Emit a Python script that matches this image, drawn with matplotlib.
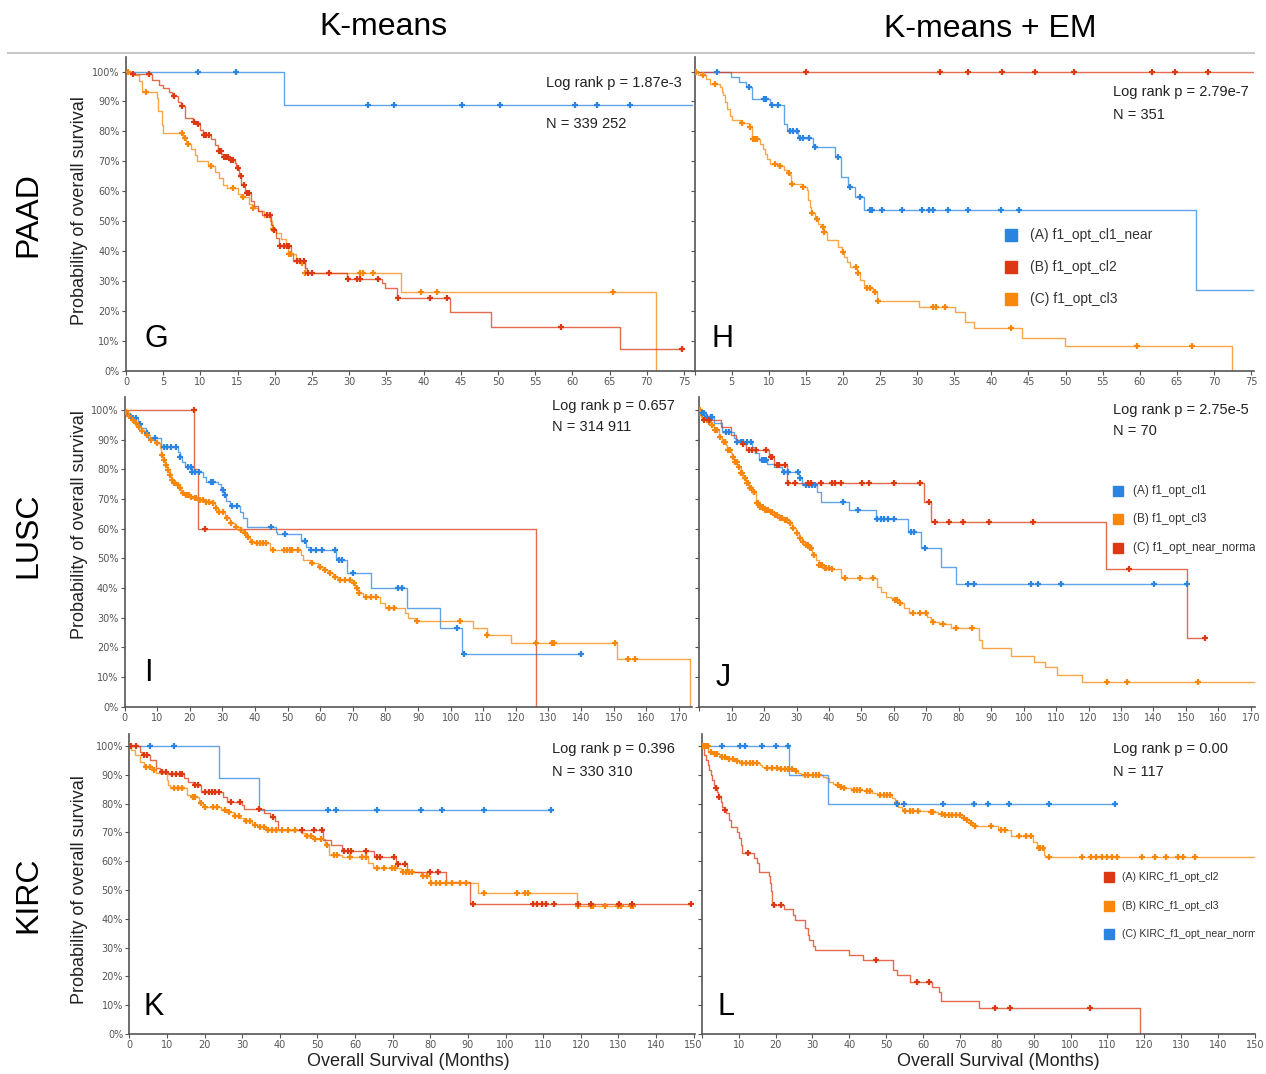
import numpy as np
import matplotlib
matplotlib.use("Agg")
import matplotlib.pyplot as plt
from matplotlib.lines import Line2D

# ---------------- survival data (months, % surviving) ----------------
# PAAD, K-means
G_blue_t = [21.2]
G_blue_s = [88.9]
G_blue_c = [9.7, 14.8, 32.5, 36.0, 45.1, 50.2, 60.4, 63.3, 67.8]
G_blue_end = 80

G_red_t = [0.6, 3.5, 4.5, 5.0, 5.8, 6.2, 7.0, 7.4, 7.9, 9.0, 9.6, 10.0, 10.3, 11.4, 12.0, 12.4,
           12.8, 13.0, 13.9, 14.6, 14.8, 15.2, 15.5, 16.0, 16.8, 17.2, 17.7, 18.3, 19.5, 19.8,
           20.2, 20.6, 22.2, 22.5, 24.0, 24.3, 29.7, 34.4, 34.8, 36.4, 43.6, 49.1, 66.4]
G_red_s = [99.3, 97.3, 95.6, 94.6, 93.0, 91.7, 89.9, 88.6, 84.6, 83.0, 82.4, 80.5, 78.8, 77.5,
           75.5, 73.6, 72.3, 71.3, 70.4, 69.3, 67.7, 65.2, 62.0, 59.5, 56.6, 55.1, 53.4, 52.0,
           48.6, 47.0, 44.5, 41.6, 39.2, 36.8, 34.5, 32.8, 30.7, 29.3, 27.6, 24.5, 19.6, 14.6, 7.2]
G_red_c = [1.0, 3.1, 6.4, 7.5, 9.2, 9.7, 10.5, 10.8, 11.1, 12.5, 12.7, 13.2, 13.5, 13.7, 14.1,
           14.4, 15.1, 15.4, 15.9, 16.2, 16.5, 19.0, 19.3, 19.9, 20.7, 21.2, 21.6, 21.9, 23.0,
           23.4, 23.9, 24.4, 25.0, 27.3, 29.9, 31.0, 31.5, 33.8, 36.6, 40.9, 43.2, 58.4, 74.7]
G_red_end = 74.7

G_orange_t = [0.8, 1.8, 2.2, 4.1, 4.3, 4.8, 5.0, 7.7, 8.1, 8.8, 9.3, 9.5, 11.0, 12.0, 12.5, 13.0,
              13.6, 15.0, 15.5, 16.5, 17.0, 17.8, 18.5, 19.3, 19.6, 20.2, 20.8, 21.5, 21.8, 22.8,
              23.3, 24.0, 36.9, 71.2]
G_orange_s = [98.9, 96.7, 93.3, 91.0, 86.7, 82.0, 79.4, 77.7, 75.7, 74.2, 72.0, 70.2, 68.5, 66.6,
              64.4, 62.2, 61.0, 59.0, 58.0, 55.8, 54.3, 53.3, 51.5, 50.0, 47.5, 46.0, 44.0, 41.5,
              39.1, 37.6, 36.2, 32.8, 26.3, 0.0]
G_orange_c = [0.3, 2.7, 7.5, 7.9, 8.3, 11.4, 14.4, 15.7, 17.1, 19.8, 21.9, 22.2, 23.7, 24.1,
              31.5, 31.8, 33.2, 39.6, 41.8, 65.5]
G_orange_end = 71.2

# PAAD, K-means + EM
H_blue_t = [4.9, 6.0, 7.0, 7.7, 10.2, 12.0, 12.5, 14.0, 16.0, 19.0, 19.8, 20.7, 21.6, 22.8, 67.6]
H_blue_s = [98.3, 96.4, 94.8, 90.9, 88.9, 82.6, 80.3, 77.8, 74.8, 71.4, 64.8, 61.4, 58.1, 53.7, 26.9]
H_blue_c = [3.0, 7.4, 9.4, 9.7, 10.4, 11.2, 12.9, 13.3, 13.8, 14.2, 14.6, 15.4, 16.3, 19.4, 21.0,
            22.3, 23.6, 23.9, 25.3, 27.9, 30.6, 31.6, 32.2, 34.2, 36.8, 41.3, 43.7]
H_blue_end = 80

H_red_t = []
H_red_s = []
H_red_c = [15.0, 33.1, 36.8, 41.4, 45.9, 51.2, 61.7, 64.7, 69.2]
H_red_end = 80

H_orange_t = [0.5, 1.6, 2.1, 3.4, 3.7, 3.9, 4.1, 4.4, 4.8, 5.0, 6.1, 7.3, 7.7, 7.8, 8.8, 9.2, 9.5,
              9.8, 10.2, 11.2, 12.0, 12.4, 12.9, 13.0, 14.5, 15.1, 15.35, 15.6, 15.7, 16.2, 16.7,
              17.1, 17.4, 17.8, 19.4, 19.9, 20.2, 20.5, 20.9, 21.9, 22.3, 22.8, 23.0, 24.0, 24.6,
              30.3, 35.1, 36.5, 37.6, 44.2, 49.9, 72.4]
H_orange_s = [98.7, 97.6, 95.9, 94.8, 93.1, 92.0, 89.8, 87.6, 85.3, 83.7, 82.8, 81.4, 79.8, 77.6,
              75.9, 74.2, 72.6, 70.9, 69.2, 68.3, 67.2, 66.1, 65.3, 62.3, 61.4, 60.3, 57.0, 54.8,
              52.8, 50.6, 49.2, 48.1, 46.4, 43.7, 41.4, 39.8, 38.1, 36.4, 34.8, 32.6, 30.3, 28.7,
              27.8, 26.4, 23.3, 21.4, 19.8, 16.4, 14.2, 11.1, 8.3, 0.0]
H_orange_c = [0.2, 1.1, 2.8, 6.4, 7.5, 7.9, 8.2, 8.4, 10.9, 11.5, 12.7, 13.1, 14.6, 15.9, 16.5,
              17.3, 17.5, 20.0, 21.8, 22.1, 23.2, 23.7, 24.3, 24.7, 32.2, 32.5, 33.8, 42.7, 59.6, 67.0]
H_orange_end = 72.4

# LUSC, K-means
I_red_t = [21.4, 22.5, 126.2]
I_red_s = [80.0, 60.0, 0.0]
I_red_c = [21.2, 24.8]
I_red_end = 126.2

I_blue_t = [0.56, 2.1, 4.1, 5.2, 6.7, 7.2, 11.3, 16.4, 16.9, 17.7, 18.4, 20.7, 24.1, 25.1, 28.7,
            29.7, 30.5, 31.2, 32.2, 35.3, 36.3, 37.7, 46.5, 46.9, 54.2, 55.7, 56.8, 64.9, 65.5,
            68.3, 75.7, 86.7, 96.6, 103.5]
I_blue_s = [98.5, 97.4, 95.2, 93.8, 92.1, 90.4, 87.6, 86.0, 84.3, 82.6, 80.9, 79.0, 77.5, 75.8,
            74.9, 73.2, 71.5, 69.3, 67.6, 65.7, 63.5, 60.7, 59.0, 58.1, 56.0, 53.9, 52.8, 50.0,
            49.4, 44.9, 39.9, 33.4, 26.4, 17.6]
I_blue_c = [1.0, 2.6, 3.5, 4.6, 7.0, 9.2, 12.2, 13.1, 14.4, 15.9, 17.0, 19.5, 20.3, 20.8, 21.7,
            22.8, 26.4, 27.1, 30.2, 30.9, 32.9, 34.6, 44.8, 49.1, 55.2, 57.3, 58.8, 60.5, 64.6,
            65.7, 66.7, 70.1, 83.8, 85.2, 101.8, 104.0, 140.0]
I_blue_end = 140.0

I_orange_t = [0.05, 1.0, 2.1, 3.0, 4.1, 5.0, 6.2, 7.7, 9.2, 10.8, 11.3, 11.8, 12.3, 13.1, 13.8,
              14.4, 14.9, 15.9, 16.9, 17.4, 18.4, 20.0, 21.0, 22.3, 24.6, 26.6, 27.6, 28.7, 29.7,
              30.7, 32.2, 33.8, 35.3, 36.3, 37.3, 38.4, 39.9, 44.5, 54.0, 54.7, 56.8, 59.3, 60.9,
              62.4, 63.9, 65.5, 70.0, 70.8, 71.6, 73.1, 78.2, 79.8, 85.9, 86.9, 89.0, 106.9, 111.0,
              118.5, 151.0, 173.5]
I_orange_s = [99.4, 98.0, 96.6, 95.5, 94.4, 93.0, 91.6, 89.9, 88.8, 87.1, 84.8, 83.1, 81.5, 79.8,
              78.1, 76.4, 75.3, 74.7, 73.6, 71.9, 71.3, 70.8, 70.2, 69.7, 69.1, 68.5, 66.9, 65.7,
              65.5, 63.5, 61.8, 60.7, 59.6, 58.4, 57.3, 55.6, 55.1, 52.8, 51.1, 49.4, 48.3, 47.2,
              46.1, 44.9, 43.8, 42.7, 41.6, 39.9, 38.2, 37.1, 34.8, 33.1, 31.5, 29.8, 28.9, 26.4,
              24.0, 21.4, 16.0, 0.0]
I_orange_c = [0.5, 1.5, 2.5, 3.5, 4.5, 5.5, 7.0, 8.2, 10.0, 11.5, 12.0, 12.8, 13.4, 14.0, 14.6,
              15.2, 15.6, 16.3, 17.1, 17.8, 18.8, 19.3, 19.8, 20.4, 21.5, 22.0, 23.0, 24.0, 25.0,
              26.0, 27.0, 28.2, 29.0, 30.2, 31.3, 32.8, 34.3, 35.8, 36.8, 37.8, 39.0, 40.5, 41.5,
              42.5, 43.5, 45.5, 49.0, 49.8, 50.6, 51.4, 53.2, 57.5, 60.0, 61.5, 63.0, 64.5, 66.0,
              67.5, 69.0, 70.4, 71.2, 72.0, 74.0, 75.5, 77.0, 81.0, 82.5, 89.6, 103.0, 111.2,
              126.3, 131.0, 131.8, 150.3, 154.4, 156.6]
I_orange_end = 173.5

# LUSC, K-means + EM
J_blue_t = [0.5, 2.0, 4.6, 7.1, 10.7, 11.2, 16.4, 17.1, 18.4, 21.0, 23.0, 25.6, 30.8, 31.6, 36.2,
            37.5, 46.2, 54.4, 64.2, 64.5, 68.3, 74.5, 79.1]
J_blue_s = [98.9, 97.8, 95.5, 92.7, 90.4, 89.3, 87.6, 85.4, 83.1, 81.7, 80.9, 79.2, 77.2, 74.7,
            72.5, 69.1, 66.3, 63.3, 61.2, 58.8, 53.4, 47.2, 41.2]
J_blue_c = [1.0, 1.5, 2.5, 3.5, 4.0, 8.2, 9.2, 11.8, 12.8, 13.6, 14.8, 15.9, 19.5, 20.0, 20.5,
            26.2, 27.4, 30.3, 31.1, 32.8, 33.9, 34.9, 35.6, 44.4, 48.8, 54.9, 55.9, 57.0, 58.2,
            60.1, 65.2, 66.2, 69.5, 82.7, 84.7, 102.2, 104.3, 111.5, 140.1, 150.3]
J_blue_end = 150.3

J_orange_t = [0.45, 1.5, 2.5, 3.5, 4.6, 6.1, 7.1, 8.2, 8.7, 9.7, 10.2, 10.7, 11.8, 12.8, 13.6,
              14.3, 15.4, 16.4, 17.4, 18.4, 20.0, 21.5, 23.1, 24.6, 26.1, 27.7, 28.7, 29.7, 30.8,
              31.8, 32.8, 33.9, 34.9, 35.9, 36.9, 38.5, 40.5, 43.6, 54.9, 55.9, 57.5, 59.0, 60.1,
              61.6, 63.1, 64.7, 70.3, 71.4, 73.9, 77.5, 86.3, 87.3, 96.0, 103.2, 106.6, 110.3, 117.9]
J_orange_s = [98.3, 97.2, 96.1, 94.9, 93.3, 91.0, 89.3, 88.2, 86.5, 85.4, 84.3, 82.6, 80.9, 78.7,
              77.0, 75.3, 73.6, 72.5, 68.5, 67.4, 66.3, 65.7, 64.6, 63.5, 62.9, 61.8, 60.1, 58.4,
              56.7, 55.6, 54.5, 53.4, 51.1, 49.4, 47.8, 46.9, 46.4, 43.3, 40.4, 38.8, 37.1, 36.5,
              36.0, 34.8, 33.1, 31.5, 30.3, 28.7, 27.8, 26.4, 22.5, 19.7, 17.2, 15.2, 13.3, 10.7, 8.4]
J_orange_c = [0.2, 1.0, 2.0, 3.0, 4.0, 5.0, 5.5, 6.5, 7.5, 8.0, 9.0, 9.5, 10.5, 11.0, 11.5, 12.3,
              13.0, 13.3, 14.0, 14.6, 15.0, 15.8, 16.0, 16.8, 17.0, 17.8, 18.0, 18.8, 19.2, 19.6,
              20.3, 20.8, 21.2, 22.0, 22.5, 23.5, 24.0, 25.0, 25.5, 26.5, 27.0, 28.0, 29.0, 30.0,
              31.0, 32.0, 33.0, 33.5, 34.0, 34.5, 35.5, 37.0, 37.5, 38.0, 38.8, 39.2, 40.0, 41.0,
              45.0, 49.5, 53.5, 60.5, 61.0, 62.0, 66.0, 68.0, 70.0, 72.0, 75.0, 79.0, 84.0, 125.8,
              131.8, 153.6]
J_orange_end = 175

J_red_t = [0.5, 1.0, 6.6, 9.7, 11.3, 12.8, 14.3, 21.5, 23.1, 27.0, 69.3, 71.3, 125.5, 150.4]
J_red_s = [98.3, 96.6, 94.4, 91.6, 89.9, 88.4, 86.5, 84.3, 81.5, 75.3, 69.1, 62.2, 46.4, 23.0]
J_red_c = [1.5, 3.0, 13.6, 15.4, 16.4, 17.4, 20.5, 22.0, 22.5, 24.1, 24.6, 26.4, 27.3, 29.5,
           33.4, 34.6, 37.4, 40.8, 41.9, 43.6, 50.2, 52.3, 60.0, 68.0, 70.8, 72.8, 76.9, 81.2,
           89.4, 102.8, 132.4, 155.8]
J_red_end = 155.8

# KIRC, K-means
K_blue_t = [23.9, 34.4]
K_blue_s = [88.9, 77.8]
K_blue_c = [5.6, 11.9, 52.9, 55.0, 65.9, 77.6, 83.2, 94.2, 112.1]
K_blue_end = 112.1

K_red_t = [2.7, 3.3, 5.4, 7.1, 8.1, 10.3, 14.6, 15.7, 16.8, 19.0, 24.9, 26.0, 29.9, 30.6, 35.8,
           37.4, 38.7, 39.6, 51.6, 53.7, 56.4, 65.1, 70.8, 73.8, 84.1, 90.6]
K_red_s = [98.0, 96.9, 95.1, 92.3, 91.1, 90.2, 88.8, 87.6, 86.5, 84.2, 82.4, 80.7, 79.5, 78.0,
           76.6, 75.3, 73.8, 71.0, 67.4, 65.7, 63.7, 61.6, 59.0, 56.1, 52.9, 45.1]
K_red_c = [0.5, 1.8, 3.8, 4.6, 8.7, 9.6, 11.4, 12.5, 13.4, 14.1, 17.4, 18.2, 20.1, 21.2, 21.9,
           22.8, 23.7, 27.1, 29.3, 34.4, 38.3, 45.8, 49.1, 51.2, 57.0, 58.1, 58.8, 62.9, 65.9,
           66.7, 70.3, 71.3, 73.3, 79.8, 82.0, 91.4, 107.4, 108.5, 109.6, 110.7, 112.9, 119.4,
           122.6, 130.2, 133.5, 149.2]
K_red_end = 149.2

K_orange_t = [0.53, 1.6, 2.7, 3.8, 6.0, 7.1, 10.0, 10.3, 10.8, 15.2, 16.3, 18.5, 19.5, 24.4, 26.0,
              27.7, 29.3, 30.4, 32.5, 34.2, 36.4, 45.6, 46.7, 48.9, 51.9, 53.2, 56.4, 63.5, 64.9,
              72.2, 77.6, 79.8, 92.8, 119.0]
K_orange_s = [98.6, 96.9, 94.6, 92.8, 91.7, 90.5, 88.2, 86.5, 85.3, 83.0, 82.4, 80.1, 78.7, 77.8,
              77.2, 75.7, 74.9, 73.8, 72.6, 71.8, 70.9, 69.7, 68.6, 67.6, 65.7, 62.2, 61.3, 59.5,
              57.6, 56.1, 54.7, 52.6, 49.1, 44.3]
K_orange_c = [4.3, 5.4, 6.5, 11.9, 13.0, 14.1, 16.8, 17.4, 19.0, 20.1, 22.2, 23.3, 25.5, 26.6,
              28.2, 29.1, 30.9, 32.0, 33.4, 34.7, 35.8, 36.9, 38.0, 39.1, 40.7, 42.3, 44.0, 47.2,
              48.3, 49.4, 51.0, 52.6, 54.3, 55.3, 58.6, 61.9, 62.9, 65.7, 67.8, 69.7, 70.5, 72.7,
              73.6, 74.4, 75.1, 78.1, 79.2, 80.3, 81.4, 82.5, 84.1, 85.7, 87.9, 89.5, 94.4, 103.1,
              105.3, 106.0, 119.4, 122.6, 123.2, 126.4, 130.0, 130.8, 133.3, 134.0]
K_orange_end = 134.0

# KIRC, K-means + EM
L_red_t = [0.7, 1.2, 1.6, 2.0, 2.5, 2.9, 3.4, 3.6, 4.2, 4.5, 5.1, 5.6, 6.0, 6.6, 7.4, 7.8, 9.6,
           10.0, 10.5, 11.0, 14.1, 15.0, 15.4, 18.1, 18.5, 18.8, 19.1, 22.4, 24.8, 25.2, 27.9,
           28.8, 29.2, 30.1, 30.7, 39.9, 43.8, 51.8, 53.0, 56.4, 62.5, 64.3, 64.9, 75.2, 118.8]
L_red_s = [96.9, 95.1, 93.4, 91.7, 89.9, 88.2, 86.5, 85.5, 84.1, 82.4, 80.7, 78.9, 77.8, 76.6,
           74.3, 72.0, 70.3, 68.0, 65.7, 62.8, 61.0, 59.3, 56.4, 54.7, 52.4, 49.5, 44.9, 43.4,
           41.3, 39.6, 36.9, 34.4, 32.6, 30.7, 29.2, 27.4, 25.7, 22.2, 20.5, 18.2, 16.4, 14.7,
           11.5, 9.1, 0.0]
L_red_c = [3.8, 4.7, 6.2, 12.5, 19.7, 21.6, 47.3, 58.4, 61.6, 79.5, 83.7, 105.3]
L_red_end = 118.8

L_orange_t = [1.8, 3.0, 5.0, 7.0, 9.0, 10.5, 15.8, 16.3, 17.2, 20.8, 25.2, 26.1, 27.0, 32.8, 33.7,
              34.6, 35.5, 36.4, 37.3, 38.2, 40.4, 43.9, 46.2, 47.5, 51.5, 52.4, 53.3, 54.2, 54.6,
              61.8, 64.0, 65.4, 70.7, 71.6, 72.9, 73.4, 80.4, 83.9, 89.8, 90.8, 92.8, 93.1]
L_orange_s = [97.8, 97.1, 96.3, 95.4, 94.8, 94.0, 93.4, 92.8, 92.2, 91.9, 91.3, 90.5, 89.9, 89.4,
              88.8, 87.6, 86.7, 86.5, 85.9, 85.3, 84.7, 84.4, 83.6, 83.0, 81.8, 80.1, 78.9, 78.1,
              77.4, 77.0, 76.3, 76.0, 74.9, 74.3, 73.1, 72.3, 70.9, 68.8, 66.5, 64.5, 62.2, 61.4]
L_orange_c = [0.2, 0.7, 1.1, 1.6, 2.5, 3.5, 4.2, 5.5, 6.2, 7.5, 8.5, 9.5, 11.0, 12.0, 13.0, 14.0,
              15.0, 17.6, 19.0, 20.3, 21.5, 22.5, 23.5, 24.5, 25.6, 27.9, 28.8, 30.1, 31.0, 31.9,
              36.8, 37.7, 38.6, 41.3, 42.2, 43.0, 44.8, 45.6, 48.4, 49.3, 50.2, 51.1, 52.9, 55.1,
              56.4, 57.3, 58.7, 62.2, 62.7, 65.0, 66.0, 67.0, 67.9, 68.8, 69.9, 71.0, 72.0, 73.0,
              74.0, 78.3, 81.0, 82.2, 85.9, 87.9, 89.3, 91.3, 91.8, 92.5, 94.2, 103.1, 105.6,
              107.0, 108.5, 109.8, 111.1, 112.7, 119.3, 122.8, 126.0, 129.2, 130.6, 133.8]
L_orange_end = 150

L_blue_t = [23.6, 34.1]
L_blue_s = [90.0, 80.0]
L_blue_c = [5.6, 10.3, 11.7, 16.3, 20.0, 23.4, 52.9, 54.7, 65.5, 73.9, 77.5, 83.2, 94.2, 112.1]
L_blue_end = 112.1

# text content
col_titles = ["K-means", "K-means + EM"]
row_titles = ["PAAD", "LUSC", "KIRC"]
stats = {
    "G": ("Log rank p = 1.87e-3", "N = 339 252"),
    "H": ("Log rank p = 2.79e-7", "N = 351"),
    "I": ("Log rank p = 0.657", "N = 314 911"),
    "J": ("Log rank p = 2.75e-5", "N = 70"),
    "K": ("Log rank p = 0.396", "N = 330 310"),
    "L": ("Log rank p = 0.00", "N = 117"),
}
legend_H = ["(A) f1_opt_cl1_near", "(B) f1_opt_cl2", "(C) f1_opt_cl3"]
legend_J = ["(A) f1_opt_cl1", "(B) f1_opt_cl3", "(C) f1_opt_near_normal"]
legend_L = ["(A) KIRC_f1_opt_cl2", "(B) KIRC_f1_opt_cl3", "(C) KIRC_f1_opt_near_normal"]

# ---------------- styling ----------------
BLUE = "#2b84e0"
RED = "#dc3912"
ORANGE = "#f8870b"
SANS = ["Liberation Sans", "DejaVu Sans"]

W, H = 1266, 1074
fig = plt.figure(figsize=(W / 100, H / 100), dpi=100)


def fx(px):
    return px / W


def fy(py):
    return 1 - py / H


def make_panel(left, right, y0, y100, ytop, xmax, xticks, show_ylabels):
    ax = fig.add_axes([fx(left), fy(y0), (right - left) / W, (y0 - ytop) / H])
    per_pct = (y0 - y100) / 100.0
    ax.set_ylim(0, (y0 - ytop) / per_pct)
    ax.set_xlim(0, xmax)
    ax.set_yticks(np.arange(0, 101, 10))
    ax.set_yticklabels([f"{v}%" for v in range(0, 101, 10)] if show_ylabels else [])
    ax.set_xticks(xticks)
    # the right-hand panels sit flush against the left ones, so their "0" is left unlabeled
    ax.set_xticklabels([("" if (v == 0 and not show_ylabels) else str(v)) for v in xticks])
    for side in ("top", "right"):
        ax.spines[side].set_visible(False)
    for side in ("left", "bottom"):
        ax.spines[side].set_color("#555555")
        ax.spines[side].set_linewidth(1.2)
    ax.tick_params(axis="both", labelsize=7, colors="#555555", length=3, width=0.8, pad=1.5)
    ax.patch.set_alpha(0)
    return ax


def km_curve(ax, t, s, c, end, color):
    xs = [0.0] + list(t) + [end]
    ys = [100.0] + list(s) + [s[-1] if len(s) else 100.0]
    ax.step(xs, ys, where="post", color=color, lw=1.0, alpha=0.75, zorder=2)
    levels = np.concatenate([[100.0], np.asarray(s, dtype=float)])
    idx = np.searchsorted(np.asarray(t, dtype=float), np.asarray(c, dtype=float), side="right")
    ax.plot(c, levels[idx], ls="none", marker="+", ms=4.5, mew=1.6, color=color, zorder=3)


def legend_block(ax, x_sq, x_txt, ys, labels, colors, size, sq):
    for y, lab, col in zip(ys, labels, colors):
        ax.plot([fx(x_sq)], [fy(y)], marker="s", ms=sq, color=col, ls="none",
                transform=fig.transFigure, clip_on=False)
        ax.text(fx(x_txt), fy(y), lab, transform=fig.transFigure, fontsize=size,
                family=SANS, color="#333333", va="center", ha="left", clip_on=True)


def stat_text(key, x, y1, y2):
    fig.text(fx(x), fy(y1), stats[key][0], fontsize=10.5, family=SANS, va="center", color="#222222")
    fig.text(fx(x), fy(y2), stats[key][1], fontsize=10.5, family=SANS, va="center", color="#222222")


def panel_letter(letter, x, y):
    fig.text(fx(x), fy(y), letter, fontsize=22, family=SANS, va="center", ha="left", color="black")


# ---------------- panels ----------------
axG = make_panel(126, 693, 371, 71.5, 57, 76.2, list(range(0, 76, 5)), True)
km_curve(axG, G_orange_t, G_orange_s, G_orange_c, G_orange_end, ORANGE)
km_curve(axG, G_red_t, G_red_s, G_red_c, G_red_end, RED)
km_curve(axG, G_blue_t, G_blue_s, G_blue_c, G_blue_end, BLUE)

axH = make_panel(694.5, 1254, 371, 71.5, 57, 75.4, list(range(0, 76, 5)), False)
km_curve(axH, H_orange_t, H_orange_s, H_orange_c, H_orange_end, ORANGE)
km_curve(axH, H_blue_t, H_blue_s, H_blue_c, H_blue_end, BLUE)
km_curve(axH, H_red_t, H_red_s, H_red_c, H_red_end, RED)

axI = make_panel(124.5, 692, 706.7, 410, 397, 174.0, list(range(0, 171, 10)), True)
km_curve(axI, I_red_t, I_red_s, I_red_c, I_red_end, RED)
km_curve(axI, I_blue_t, I_blue_s, I_blue_c, I_blue_end, BLUE)
km_curve(axI, I_orange_t, I_orange_s, I_orange_c, I_orange_end, ORANGE)

axJ = make_panel(699.2, 1255, 706.7, 410, 397, 171.3, list(range(0, 171, 10)), False)
km_curve(axJ, J_orange_t, J_orange_s, J_orange_c, J_orange_end, ORANGE)
km_curve(axJ, J_blue_t, J_blue_s, J_blue_c, J_blue_end, BLUE)
km_curve(axJ, J_red_t, J_red_s, J_red_c, J_red_end, RED)

axK = make_panel(129.4, 694.7, 1034, 746, 734, 150.3, list(range(0, 151, 10)), True)
km_curve(axK, K_blue_t, K_blue_s, K_blue_c, K_blue_end, BLUE)
km_curve(axK, K_orange_t, K_orange_s, K_orange_c, K_orange_end, ORANGE)
km_curve(axK, K_red_t, K_red_s, K_red_c, K_red_end, RED)

axL = make_panel(701.8, 1255, 1034, 746, 734, 148.0, list(range(0, 151, 10)), False)
km_curve(axL, L_red_t, L_red_s, L_red_c, L_red_end, RED)
km_curve(axL, L_orange_t, L_orange_s, L_orange_c, L_orange_end, ORANGE)
km_curve(axL, L_blue_t, L_blue_s, L_blue_c, L_blue_end, BLUE)

# ---------------- legends ----------------
legend_block(axH, 1011, 1030, [235, 267, 299], legend_H, [BLUE, RED, ORANGE], 10, 8)
legend_block(axJ, 1118, 1133, [491, 519, 548], legend_J, [BLUE, ORANGE, RED], 8.5, 6.5)
legend_block(axL, 1109, 1122, [877, 906, 934], legend_L, [RED, ORANGE, BLUE], 7.6, 6.5)

# ---------------- annotations ----------------
stat_text("G", 546, 83, 124)
stat_text("H", 1113, 92, 115)
stat_text("I", 552, 406, 427)
stat_text("J", 1113, 410, 431)
stat_text("K", 552, 749, 772)
stat_text("L", 1113, 749, 772)

panel_letter("G", 144, 339)
panel_letter("H", 712, 339)
panel_letter("I", 144, 673)
panel_letter("J", 716, 678)
panel_letter("K", 144, 1007)
panel_letter("L", 717, 1007)

fig.text(fx(383), fy(27), col_titles[0], fontsize=23, family=SANS, ha="center", va="center")
fig.text(fx(990), fy(29), col_titles[1], fontsize=23, family=SANS, ha="center", va="center")
fig.add_artist(Line2D([fx(8), fx(1254)], [fy(53), fy(53)], color="#c8c8c8", lw=1.5))

for name, yc in zip(row_titles, [215, 535, 895]):
    fig.text(fx(28), fy(yc), name, fontsize=23, family=SANS, rotation=90, ha="center", va="center")

for yc in [211, 525, 890]:
    fig.text(fx(80), fy(yc), "Probability of overall survival", fontsize=13, family=SANS,
             rotation=90, ha="center", va="center", color="#222222")

for xc in [408, 998]:
    fig.text(fx(xc), fy(1062), "Overall Survival (Months)", fontsize=13, family=SANS,
             ha="center", va="center", color="#222222")

fig.savefig("out.png", dpi=100, facecolor="white")
